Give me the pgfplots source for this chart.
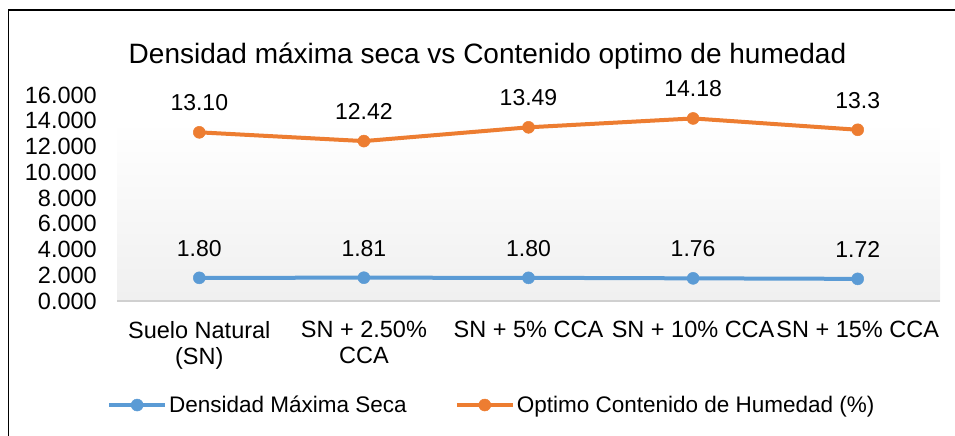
\documentclass[border=0pt]{standalone}
\usepackage{pgfplots}
\pgfplotsset{compat=1.18}
\usepackage{pgfplotstable}
\usepackage{fontspec}
\setmainfont{Liberation Sans}
\definecolor{cblue}{HTML}{5B9BD5}
\definecolor{corange}{HTML}{ED7D31}
\definecolor{axgray}{HTML}{D0D0D0}
\pgfplotstableread{
x y lab
0.5 1.80 1.80
1.5 1.81 1.81
2.5 1.80 1.80
3.5 1.76 1.76
4.5 1.72 1.72
}\densidad
\pgfplotstableread{
x y lab
0.5 13.10 13.10
1.5 12.42 12.42
2.5 13.49 13.49
3.5 14.18 14.18
4.5 13.30 13.3
}\humedad
\begin{document}
\begin{tikzpicture}
\useasboundingbox (0pt,0pt) rectangle (955pt,436pt);
\draw[line width=1.5pt,black] (8.5pt,-5pt) -- (8.5pt,426pt) -- (960pt,426pt);
\node[font=\fontsize{28}{32}\selectfont, anchor=base] at (487.5pt,372pt) {Densidad máxima seca vs Contenido optimo de humedad};
\begin{axis}[
  at={(117pt,135pt)}, anchor=south west,
  width=823pt, height=206pt, scale only axis,
  xmin=0, xmax=5, ymin=0, ymax=16,
  axis line style={draw=none},
  axis x line*=bottom, axis y line*=left,
  xtick={0.5,1.5,2.5,3.5,4.5},
  xticklabels={{Suelo Natural\\(SN)},{SN + 2.50\%\\CCA},{SN + 5\% CCA},{SN + 10\% CCA},{SN + 15\% CCA}},
  ytick={0,2,...,16},
  major tick length=0pt,
  tick style={draw=none},
  /pgf/number format/.cd, fixed, fixed zerofill, precision=3, assume math mode=true,
  /pgfplots/.cd,
  ticklabel style={font=\fontsize{23.5}{26}\selectfont},
  yticklabel style={anchor=east, inner sep=0pt, xshift=-20pt},
  xticklabel style={anchor=north, inner sep=0pt, yshift=-20pt, align=center},
  clip=false,
  legend columns=2,
  legend style={draw=none, fill=none, at={(-0.0122,-0.505)}, anchor=west,
    inner sep=0pt, font=\fontsize{22.5}{25}\selectfont,
    /tikz/every even column/.append style={column sep=46pt},
    nodes={inner xsep=2pt, inner ysep=0pt}},
  legend image code/.code={\draw[#1, mark repeat=2, mark phase=2] plot coordinates {(0pt,0pt) (28pt,0pt) (56pt,0pt)};},
  nodes near coords={\pgfplotspointmeta},
  point meta=explicit symbolic,
  every node near coord/.append style={font=\fontsize{23}{26}\selectfont, anchor=center, inner sep=0pt, yshift=29.5pt, text=black},
]
\shade[top color=white, bottom color=black!6] (axis cs:0,0) rectangle (axis cs:5,13.9);
\draw[axgray, line width=2pt] (axis cs:0,0) -- (axis cs:5,0);
\addplot[cblue, line width=4pt, mark=*, mark size=6pt, mark options={fill=cblue, draw=cblue, line width=0.5pt}] table[x=x, y=y, meta=lab] {\densidad};
\addlegendentry{Densidad Máxima Seca}
\addplot[corange, line width=4pt, mark=*, mark size=6pt, mark options={fill=corange, draw=corange, line width=0.5pt}] table[x=x, y=y, meta=lab] {\humedad};
\addlegendentry{Optimo Contenido de Humedad (\%)}
\end{axis}
\end{tikzpicture}
\end{document}
